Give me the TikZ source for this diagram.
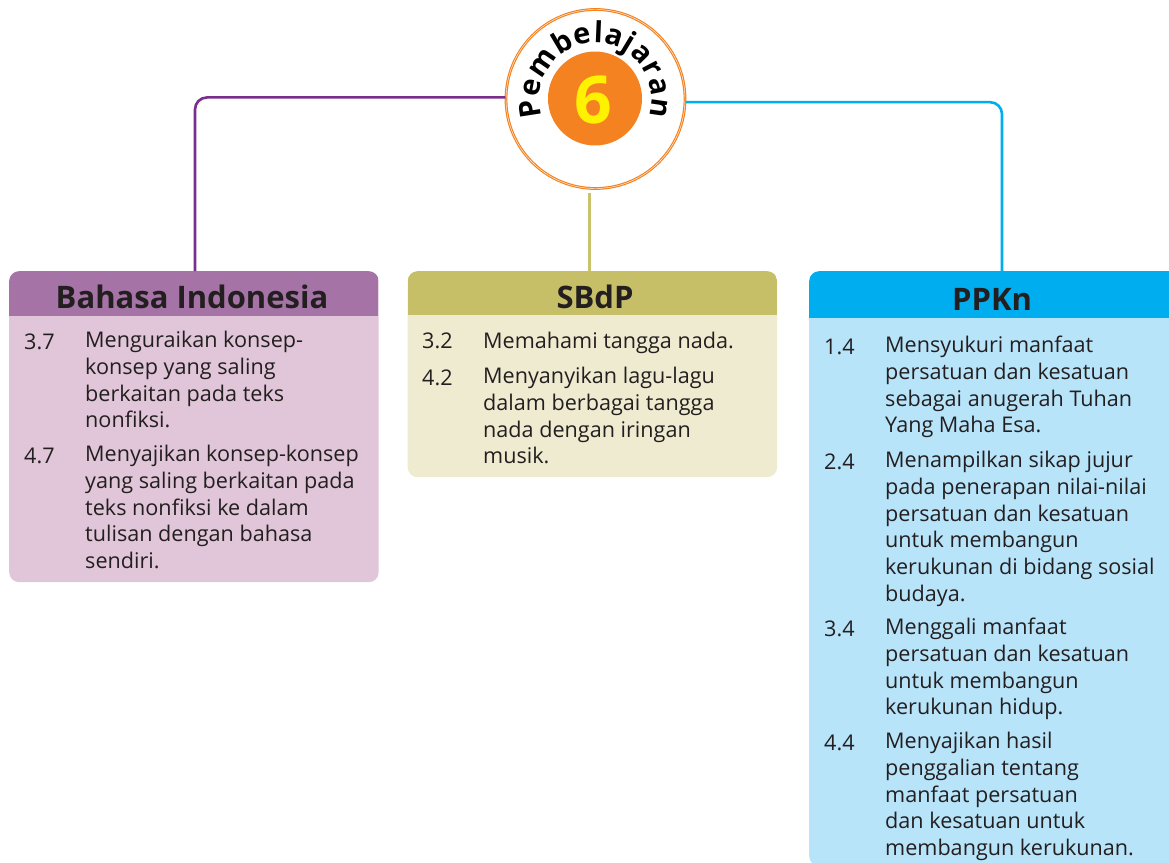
\documentclass[tikz,border=0pt]{standalone}
\usepackage{fontspec}
\setmainfont{Open Sans}
\usetikzlibrary{decorations.text}

\definecolor{ungu}{HTML}{7B2D8E}
\definecolor{unguTua}{HTML}{A573A6}
\definecolor{unguMuda}{HTML}{E0C6D8}
\definecolor{zaitun}{HTML}{C9C36B}
\definecolor{zaitunTua}{HTML}{C6BF68}
\definecolor{zaitunMuda}{HTML}{EFEBD0}
\definecolor{biru}{HTML}{00AEEF}
\definecolor{biruMuda}{HTML}{B8E4FA}
\definecolor{jingga}{HTML}{F58220}
\definecolor{kuning}{HTML}{FFF200}
\definecolor{tinta}{HTML}{231F20}

\begin{document}
\begin{tikzpicture}[
    x=1pt, y=1pt,
    % Style for the coloured panels, header painted inside the node
    panel/.style n args={4}{
        rectangle, anchor=north west, inner sep=0pt, rounded corners=10pt,
        fill=#1, minimum width=369.5pt, minimum height=#3pt,
        path picture={
            \fill[#2, sharp corners] (path picture bounding box.north west) rectangle
            ([yshift=-#4pt]path picture bounding box.north east);
        }
    },
    judul/.style={font=\fontsize{31}{31}\selectfont\bfseries, text=tinta, inner sep=0pt},
    % Style for the item numbers and the item texts
    nomor/.style={font=\fontsize{21.6}{26.7}\selectfont, text=tinta, anchor=north west,
        inner sep=0pt, execute at begin node=\strut},
    isi/.style={nomor, align=left},
    garis/.style={line width=2.6pt, rounded corners=12pt}
]
    \useasboundingbox (0,0) rectangle (1169,-862);
    \clip (0,0) rectangle (1169,-862);

    % --- 1. Circle ---
    \node[circle, draw=jingga, double=white, line width=1.2pt, double distance=0.4pt,
        minimum size=179pt, inner sep=0pt] (lingkaran) at (595.5,-99) {};
    \node[circle, fill=jingga, minimum size=94pt, inner sep=0pt] (enam) at (595,-98.5) {};
    \node[font=\fontsize{66}{66}\selectfont\bfseries, text=kuning, inner sep=0pt] (angka) at (593,-100) {6};
    \path[decorate, decoration={text along path, text align=fit to path,
        text={|\fontsize{29}{29}\selectfont\bfseries|Pembelajaran}}]
        (lingkaran.center) ++(198:56) arc[start angle=198, end angle=-18, radius=56];

    % --- 2. Panels ---
    \node[panel={unguMuda}{unguTua}{311}{44.5}] (bi) at (9,-271) {};
    \node[panel={zaitunMuda}{zaitunTua}{206}{44}] (sbdp) at (407.5,-271) {};
    \node[panel={biruMuda}{biru}{595}{47}] (ppkn) at (809,-271) {};

    \node[judul] (judulBi) at (192,-297) {Bahasa Indonesia};
    \node[judul] (judulSbdp) at (595,-297) {SBdP};
    \node[judul] (judulPpkn) at (992,-299) {PPKn};

    % --- 3. Connectors ---
    \coordinate (atasBi) at (195,-271);
    \coordinate (atasSbdp) at (589.5,-271);
    \coordinate (atasPpkn) at (1002,-271);
    \draw[garis, ungu] (lingkaran.179) -| (atasBi);
    \draw[garis, zaitun, shorten >=3.5pt, rounded corners=0pt] (atasSbdp) -- (atasSbdp |- lingkaran.south);
    \draw[garis, biru] (lingkaran.-2) -| (atasPpkn);

    % --- 4. Bahasa Indonesia ---
    \node[nomor] (n37) at (24,-331) {3.7};
    \node[isi] (t37) at (85,-331) {Menguraikan konsep-\\konsep yang saling\\berkaitan pada teks\\nonfiksi.};
    \node[nomor] (n47) at (24,-445) {4.7};
    \node[isi] (t47) at (85,-445) {Menyajikan konsep-konsep\\yang saling berkaitan pada\\teks nonfiksi ke dalam\\tulisan dengan bahasa\\sendiri.};

    % --- 5. SBdP ---
    \node[nomor] (n32) at (422,-330) {3.2};
    \node[isi] (t32) at (483,-330) {Memahami tangga nada.};
    \node[nomor] (n42) at (422,-367) {4.2};
    \node[isi] (t42) at (483,-367) {Menyanyikan lagu-lagu\\dalam berbagai tangga\\nada dengan iringan\\musik.};

    % --- 6. PPKn ---
    \node[nomor] (n14) at (824,-336) {1.4};
    \node[isi] (t14) at (885,-336) {Mensyukuri manfaat\\persatuan dan kesatuan\\sebagai anugerah Tuhan\\Yang Maha Esa.};
    \node[nomor] (n24) at (824,-451) {2.4};
    \node[isi] (t24) at (885,-451) {Menampilkan sikap jujur\\pada penerapan nilai-nilai\\persatuan dan kesatuan\\untuk membangun\\kerukunan di bidang sosial\\budaya.};
    \node[nomor] (n34) at (824,-618) {3.4};
    \node[isi] (t34) at (885,-618) {Menggali manfaat\\persatuan dan kesatuan\\untuk membangun\\kerukunan hidup.};
    \node[nomor] (n44) at (824,-732) {4.4};
    \node[isi] (t44) at (885,-732) {Menyajikan hasil\\penggalian tentang\\manfaat persatuan\\dan kesatuan untuk\\membangun kerukunan.};
\end{tikzpicture}
\end{document}
